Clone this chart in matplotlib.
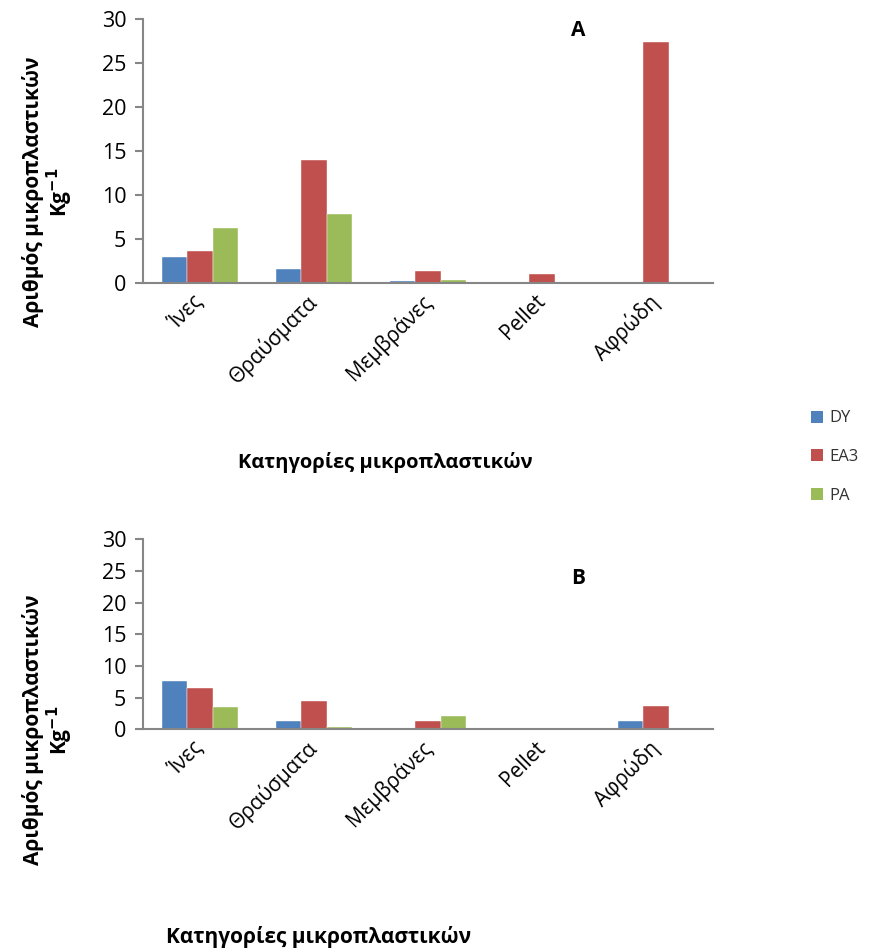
import numpy as np
import matplotlib.pyplot as plt
from matplotlib.patches import Patch

plt.rcParams['font.family'] = ['Open Sans', 'DejaVu Sans']

categories = ['Ίνες', 'Θραύσματα', 'Μεμβράνες', 'Pellet', 'Αφρώδη']
series = ['DY', 'EA3', 'PA']
colors = ['#4F81BD', '#C0504D', '#9BBB59']

# panel A
dy_a = [3.0, 1.6, 0.2, 0.0, 0.0]
ea3_a = [3.6, 14.0, 1.4, 1.0, 27.4]
pa_a = [6.3, 7.8, 0.4, 0.0, 0.0]

# panel B
dy_b = [7.6, 1.3, 0.0, 0.0, 1.3]
ea3_b = [6.5, 4.4, 1.3, 0.0, 3.7]
pa_b = [3.6, 0.3, 2.1, 0.0, 0.0]

ylabel = 'Αριθμός μικροπλαστικών\nKg$^{\\mathbf{-1}}$'
xlabel = 'Κατηγορίες μικροπλαστικών'
axis_grey = '#868686'


def draw_panel(ax, data):
    x = np.arange(len(categories))
    w = 0.22
    for i, (vals, c) in enumerate(zip(data, colors)):
        ax.bar(x + (i - 1) * w, vals, width=w, color=c, edgecolor='white',
               linewidth=0.3)
    ax.set_xlim(-0.5, len(categories) - 0.5)
    ax.set_ylim(0, 30)
    ax.set_yticks(range(0, 31, 5))
    ax.set_xticks(x)
    ax.set_xticklabels(categories, rotation=45, ha='right', va='center',
                       rotation_mode='anchor', fontsize=15)
    ax.tick_params(axis='x', length=0, pad=11)
    ax.tick_params(axis='y', length=6, width=1.5, color=axis_grey,
                   labelsize=15.5, pad=6)
    for s in ['top', 'right']:
        ax.spines[s].set_visible(False)
    for s in ['left', 'bottom']:
        ax.spines[s].set_color(axis_grey)
        ax.spines[s].set_linewidth(1.5)


fig = plt.figure(figsize=(8.87, 9.52), dpi=100)
ax1 = fig.add_axes([0.1612, 0.7027, 0.6426, 0.2773])
ax2 = fig.add_axes([0.1612, 0.2339, 0.6426, 0.1996])

draw_panel(ax1, [dy_a, ea3_a, pa_a])
draw_panel(ax2, [dy_b, ea3_b, pa_b])

# panel tags
fig.text(578 / 887, 1 - 31 / 952, 'A', fontsize=15, fontweight='bold',
         ha='center', va='center')
fig.text(578 / 887, 1 - 578 / 952, 'B', fontsize=15, fontweight='bold',
         ha='center', va='center')

# axis titles
fig.text(0.055, 1 - 192 / 952, ylabel, rotation=90, ha='center',
         va='center', fontsize=15, fontweight='bold', linespacing=1.05)
fig.text(0.055, 1 - 730 / 952, ylabel, rotation=90, ha='center',
         va='center', fontsize=15, fontweight='bold', linespacing=1.05)
fig.text(385 / 887, 1 - 462 / 952, xlabel, ha='center', va='center',
         fontsize=14.5, fontweight='bold')
fig.text(319 / 887, 1 - 937 / 952, xlabel, ha='center', va='center',
         fontsize=15, fontweight='bold')

handles = [Patch(facecolor=c, edgecolor='none') for c in colors]
fig.legend(handles, series, loc='center left',
           bbox_to_anchor=(803 / 887, 1 - 457 / 952), frameon=False,
           fontsize=12, handlelength=0.7, handleheight=0.7,
           handletextpad=0.4, labelspacing=1.35, borderpad=0,
           labelcolor='#333333')

fig.savefig('out.png', dpi=100)
